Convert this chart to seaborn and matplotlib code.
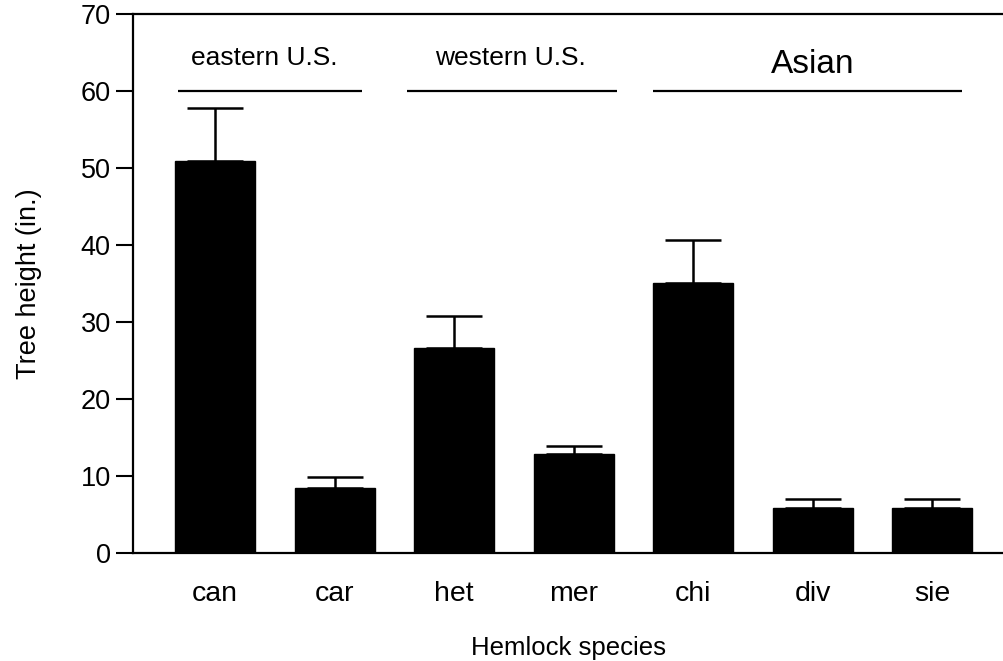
import matplotlib
matplotlib.use("Agg")
import matplotlib.pyplot as plt
import seaborn as sns
import pandas as pd
import numpy as np

species = ["can", "car", "het", "mer", "chi", "div", "sie"]
heights = [50.9, 8.4, 26.6, 12.9, 35.1, 5.8, 5.8]
errors = [6.9, 1.5, 4.2, 1.0, 5.5, 1.2, 1.2]
groups = ["eastern U.S.", "western U.S.", "Asian"]
group_spans = [(-0.31, 1.23), (1.61, 3.36), (3.66, 6.25)]
group_label_x = [0.41, 2.47, 5.0]
group_label_y = [63.4, 63.4, 62.3]
group_label_size = [19, 19, 24]
yticks = [0, 10, 20, 30, 40, 50, 60, 70]

sns.set_style("white")
plt.rcParams['font.family'] = ['Liberation Sans', 'DejaVu Sans']
plt.rcParams['text.color'] = 'black'
plt.rcParams['axes.labelcolor'] = 'black'
plt.rcParams['xtick.color'] = 'black'
plt.rcParams['ytick.color'] = 'black'

df = pd.DataFrame({"species": species, "height": heights})

fig = plt.figure(figsize=(10.04, 6.61), dpi=100)
ax = fig.add_axes([133/1004, 1 - 553/661, 1 - 133/1004, (553 - 14)/661])

sns.barplot(data=df, x="species", y="height", color="black", width=0.67,
            saturation=1, errorbar=None, ax=ax, edgecolor="black")
xs = np.arange(len(species))
ax.errorbar(xs, heights, yerr=[np.zeros(len(errors)), errors], fmt="none",
            ecolor="black", elinewidth=1.8, capsize=20, capthick=1.8, zorder=1)

for (x0, x1), name, lx, ly, fs in zip(group_spans, groups, group_label_x,
                                      group_label_y, group_label_size):
    ax.plot([x0, x1], [60, 60], color="black", lw=1.6, solid_capstyle="butt")
    ax.text(lx, ly, name, ha="center", va="baseline", fontsize=fs, color="black")

ax.set_xlim(-0.686, 6.6)
ax.set_ylim(0, 70)
ax.set_yticks(yticks)
ax.set_yticklabels([str(t) for t in yticks], fontsize=19.5)
ax.tick_params(axis="y", direction="out", length=12, width=1.5, pad=4, left=True)
ax.tick_params(axis="x", length=0, pad=20, labelsize=20.5)
ax.set_xlabel("Hemlock species", fontsize=18.5, labelpad=21)
ax.set_ylabel("Tree height (in.)", fontsize=19.5, labelpad=28)
for s in ["left", "bottom", "top"]:
    ax.spines[s].set_visible(True)
    ax.spines[s].set_color("black")
    ax.spines[s].set_linewidth(1.6)
ax.spines["right"].set_visible(False)

fig.savefig("out.png", dpi=100)
